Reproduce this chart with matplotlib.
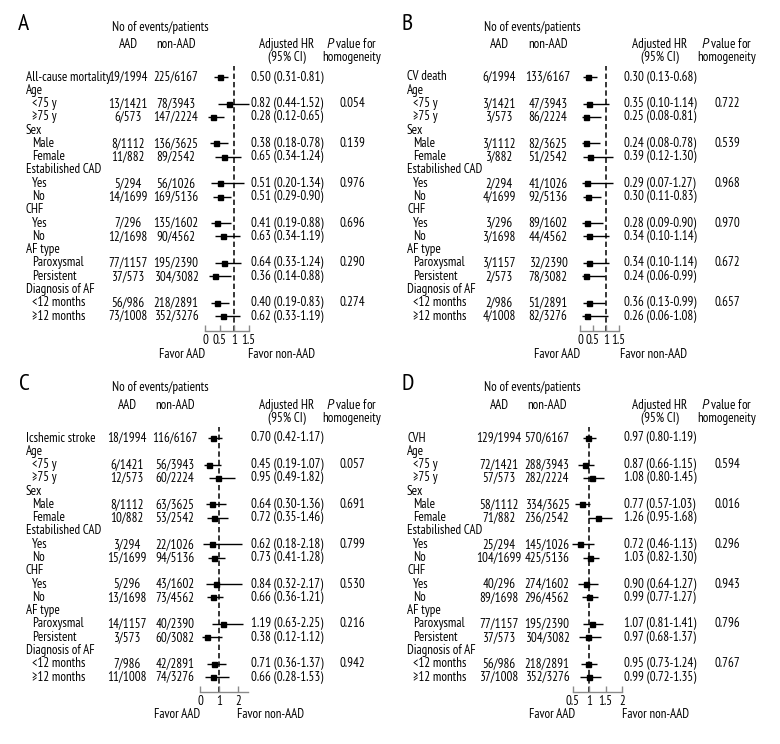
import matplotlib
matplotlib.use("Agg")
import matplotlib.pyplot as plt

plt.rcParams['font.family'] = ['PT Sans Narrow', 'DejaVu Sans']
plt.rcParams['mathtext.fontset'] = 'custom'
plt.rcParams['mathtext.it'] = 'PT Sans:italic'
plt.rcParams['mathtext.rm'] = 'PT Sans Narrow'
FS = 9.4

# ---------------- data ----------------
row_labels = ["Age", "<75 y", "\u226575 y", "Sex", "Male", "Female", "Estabilished CAD", "Yes", "No",
              "CHF", "Yes", "No", "AF type", "Paroxysmal", "Persistent", "Diagnosis of AF",
              "<12 months", "\u226512 months"]
header_rows = [1, 4, 7, 10, 13, 16]
data_rows = [0, 2, 3, 5, 6, 8, 9, 11, 12, 14, 15, 17, 18]
p_rows = [2, 5, 8, 11, 14, 17]

A_title = "All-cause mortality"
A_aad = ["19/1994", "13/1421", "6/573", "8/1112", "11/882", "5/294", "14/1699", "7/296", "12/1698",
         "77/1157", "37/573", "56/986", "73/1008"]
A_non = ["225/6167", "78/3943", "147/2224", "136/3625", "89/2542", "56/1026", "169/5136", "135/1602",
         "90/4562", "195/2390", "304/3082", "218/2891", "352/3276"]
A_hr = [0.50, 0.82, 0.28, 0.38, 0.65, 0.51, 0.51, 0.41, 0.63, 0.64, 0.36, 0.40, 0.62]
A_lo = [0.31, 0.44, 0.12, 0.18, 0.34, 0.20, 0.29, 0.19, 0.34, 0.33, 0.14, 0.19, 0.33]
A_hi = [0.81, 1.52, 0.65, 0.78, 1.24, 1.34, 0.90, 0.88, 1.19, 1.24, 0.88, 0.83, 1.19]
A_p = ["0.054", "0.139", "0.976", "0.696", "0.290", "0.274"]
A_ticks = [0, 0.5, 1, 1.5]
A_ticklabels = ["0", "0.5", "1", "1.5"]

B_title = "CV death"
B_aad = ["6/1994", "3/1421", "3/573", "3/1112", "3/882", "2/294", "4/1699", "3/296", "3/1698",
         "3/1157", "2/573", "2/986", "4/1008"]
B_non = ["133/6167", "47/3943", "86/2224", "82/3625", "51/2542", "41/1026", "92/5136", "89/1602",
         "44/4562", "32/2390", "78/3082", "51/2891", "82/3276"]
B_hr = [0.30, 0.35, 0.25, 0.24, 0.39, 0.29, 0.30, 0.28, 0.34, 0.34, 0.24, 0.36, 0.26]
B_lo = [0.13, 0.10, 0.08, 0.08, 0.12, 0.07, 0.11, 0.09, 0.10, 0.10, 0.06, 0.13, 0.06]
B_hi = [0.68, 1.14, 0.81, 0.78, 1.30, 1.27, 0.83, 0.90, 1.14, 1.14, 0.99, 0.99, 1.08]
B_p = ["0.722", "0.539", "0.968", "0.970", "0.672", "0.657"]
B_ticks = [0, 0.5, 1, 1.5]
B_ticklabels = ["0", "0.5", "1", "1.5"]

C_title = "Icshemic stroke"
C_aad = ["18/1994", "6/1421", "12/573", "8/1112", "10/882", "3/294", "15/1699", "5/296", "13/1698",
         "14/1157", "3/573", "7/986", "11/1008"]
C_non = ["116/6167", "56/3943", "60/2224", "63/3625", "53/2542", "22/1026", "94/5136", "43/1602",
         "73/4562", "40/2390", "60/3082", "42/2891", "74/3276"]
C_hr = [0.70, 0.45, 0.95, 0.64, 0.72, 0.62, 0.73, 0.84, 0.66, 1.19, 0.38, 0.71, 0.66]
C_lo = [0.42, 0.19, 0.49, 0.30, 0.35, 0.18, 0.41, 0.32, 0.36, 0.63, 0.12, 0.36, 0.28]
C_hi = [1.17, 1.07, 1.82, 1.36, 1.46, 2.18, 1.28, 2.17, 1.21, 2.25, 1.12, 1.37, 1.53]
C_p = ["0.057", "0.691", "0.799", "0.530", "0.216", "0.942"]
C_ticks = [0, 1, 2]
C_ticklabels = ["0", "1", "2"]

D_title = "CVH"
D_aad = ["129/1994", "72/1421", "57/573", "58/1112", "71/882", "25/294", "104/1699", "40/296",
         "89/1698", "77/1157", "37/573", "56/986", "37/1008"]
D_non = ["570/6167", "288/3943", "282/2224", "334/3625", "236/2542", "145/1026", "425/5136",
         "274/1602", "296/4562", "195/2390", "304/3082", "218/2891", "352/3276"]
D_hr = [0.97, 0.87, 1.08, 0.77, 1.26, 0.72, 1.03, 0.90, 0.99, 1.07, 0.97, 0.95, 0.99]
D_lo = [0.80, 0.66, 0.80, 0.57, 0.95, 0.46, 0.82, 0.64, 0.77, 0.81, 0.68, 0.73, 0.72]
D_hi = [1.19, 1.15, 1.45, 1.03, 1.68, 1.13, 1.30, 1.27, 1.27, 1.41, 1.37, 1.24, 1.35]
D_p = ["0.594", "0.016", "0.296", "0.943", "0.796", "0.767"]
D_ticks = [0.5, 1, 1.5, 2]
D_ticklabels = ["0.5", "1", "1.5", "2"]

# ---------------- layout ----------------
W, H = 780, 744
fig = plt.figure(figsize=(W / 100, H / 100), dpi=100)
fig.patch.set_facecolor("white")

ROW0 = 77.0
DY = 13.28
AXIS_Y = 331.0


def ftext(px, py, s, **kw):
    kw.setdefault("fontsize", FS)
    kw.setdefault("va", "center")
    fig.text(px / W, 1 - py / H, s, **kw)


panels = [
    dict(letter="A", oy=0, lab=26, sub=32, aad=128, non=176, hr=287, p=352, ev=112,
         f0=205, f1=248.5, xlim=(0, 1.5), fav_r=205, fav_l=248, let_x=18,
         title=A_title, A=A_aad, N=A_non, HR=A_hr, LO=A_lo, HI=A_hi, P=A_p, T=A_ticks, TL=A_ticklabels),
    dict(letter="B", oy=0, lab=407, sub=413, aad=499, non=548, hr=660, p=727, ev=484,
         f0=580, f1=618.5, xlim=(0, 1.5), fav_r=580, fav_l=620, let_x=402,
         title=B_title, A=B_aad, N=B_non, HR=B_hr, LO=B_lo, HI=B_hi, P=B_p, T=B_ticks, TL=B_ticklabels),
    dict(letter="C", oy=361, lab=26, sub=32, aad=127, non=175, hr=287, p=352, ev=112,
         f0=200, f1=248, xlim=(0, 2.5), fav_r=200, fav_l=237, let_x=19,
         title=C_title, A=C_aad, N=C_non, HR=C_hr, LO=C_lo, HI=C_hi, P=C_p, T=C_ticks, TL=C_ticklabels),
    dict(letter="D", oy=361, lab=407, sub=413, aad=499, non=547, hr=660, p=727, ev=484,
         f0=573, f1=622, xlim=(0.5, 2.0), fav_r=575, fav_l=622, let_x=402,
         title=D_title, A=D_aad, N=D_non, HR=D_hr, LO=D_lo, HI=D_hi, P=D_p, T=D_ticks, TL=D_ticklabels),
]

for pn in panels:
    oy = pn["oy"]
    ry = lambda i: oy + ROW0 + i * DY

    # headers
    ftext(pn["let_x"], oy + 24, pn["letter"], fontsize=17, ha="left")
    ftext(pn["ev"], oy + 27, "No of events/patients", ha="left")
    ftext(pn["aad"], oy + 45, "AAD", ha="center")
    ftext(pn["non"], oy + 45, "non-AAD", ha="center")
    ftext(pn["hr"], oy + 44, "Adjusted HR", ha="center")
    ftext(pn["hr"], oy + 57.5, "(95% CI)", ha="center")
    ftext(pn["p"], oy + 44, "$\\it{P}$ value for", ha="center")
    ftext(pn["p"], oy + 57.5, "homogeneity", ha="center")

    # row labels
    ftext(pn["lab"], ry(0), pn["title"], ha="left")
    for k, lbl in enumerate(row_labels):
        i = k + 1
        x = pn["lab"] if i in header_rows else pn["sub"]
        ftext(x, ry(i), lbl, ha="left")

    # counts and HR text
    for j, i in enumerate(data_rows):
        ftext(pn["aad"], ry(i), pn["A"][j], ha="center")
        ftext(pn["non"], ry(i), pn["N"][j], ha="center")
        ftext(pn["hr"], ry(i), "%.2f (%.2f-%.2f)" % (pn["HR"][j], pn["LO"][j], pn["HI"][j]), ha="center")
    for j, i in enumerate(p_rows):
        ftext(pn["p"], ry(i), pn["P"][j], ha="center")

    # forest axes
    top_val = -0.8
    bot_val = (AXIS_Y - ROW0) / DY
    y_top = oy + ROW0 + top_val * DY
    y_bot = oy + AXIS_Y
    ax = fig.add_axes([pn["f0"] / W, 1 - y_bot / H, (pn["f1"] - pn["f0"]) / W, (y_bot - y_top) / H])
    ax.set_xlim(*pn["xlim"])
    ax.set_ylim(bot_val, top_val)
    ax.patch.set_alpha(0)
    for s in ["top", "left", "right"]:
        ax.spines[s].set_visible(False)
    ax.spines["bottom"].set_color("#8a8a8a")
    ax.spines["bottom"].set_linewidth(1.0)
    ax.set_yticks([])
    ax.set_xticks(pn["T"])
    ax.set_xticklabels(pn["TL"], fontsize=FS)
    ax.tick_params(axis="x", direction="in", length=4.5, width=1.0, color="#8a8a8a", pad=2)

    ax.axvline(1.0, color="black", lw=1.1, linestyle=(0, (3.5, 2.0)), zorder=1)
    hr = pn["HR"]
    lo = pn["LO"]
    hi = pn["HI"]
    yv = data_rows
    ax.errorbar(hr, yv, xerr=[[h - l for h, l in zip(hr, lo)], [u - h for h, u in zip(hr, hi)]],
                fmt="s", color="black", ms=3.6, elinewidth=1.0, capsize=0, clip_on=False, zorder=3)

    # favor labels
    ftext(pn["fav_r"], oy + 354, "Favor AAD", ha="right")
    ftext(pn["fav_l"], oy + 354, "Favor non-AAD", ha="left")

fig.savefig("out.png", dpi=100, facecolor="white")
